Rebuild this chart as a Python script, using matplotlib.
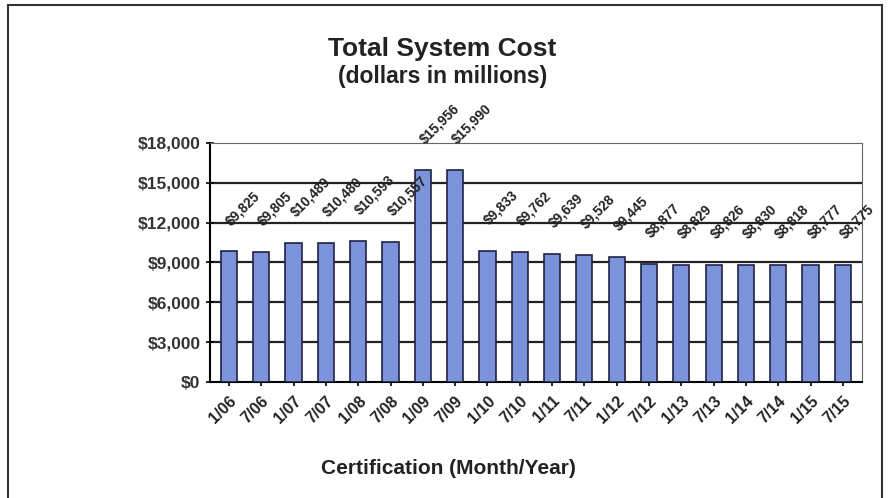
import numpy as np
import matplotlib
matplotlib.use("Agg")
import matplotlib.pyplot as plt
from matplotlib.patches import Rectangle

# Datos
periodos = ["1/06", "7/06", "1/07", "7/07", "1/08", "7/08", "1/09", "7/09", "1/10", "7/10",
            "1/11", "7/11", "1/12", "7/12", "1/13", "7/13", "1/14", "7/14", "1/15", "7/15"]
costes = [9825, 9805, 10489, 10480, 10593, 10557, 15956, 15990, 9833, 9762,
          9639, 9528, 9445, 8877, 8829, 8826, 8830, 8818, 8777, 8775]
ticks_y = [0, 3000, 6000, 9000, 12000, 15000, 18000]

plt.rcParams['font.family'] = ['Liberation Sans', 'DejaVu Sans']
plt.rcParams['font.weight'] = 'bold'

fig = plt.figure(figsize=(8.88, 4.98), dpi=100)
ax = fig.add_axes([0.236, 0.233, 0.735, 0.48])

# Marco exterior
fig.patches.append(Rectangle((0.009, -0.05), 0.984, 1.04, transform=fig.transFigure,
                             fill=False, edgecolor="#333333", linewidth=1.5))

x = np.arange(len(periodos))
ax.bar(x, costes, width=0.5, color="#7b93db", edgecolor="#222244", linewidth=1.2, zorder=3)

# Etiquetas de valor giradas
for xi, v in zip(x, costes):
    ax.annotate(f"${v:,}", (xi, v), xytext=(3, 17), textcoords="offset points",
                rotation=45, fontsize=9.8, fontweight="bold", color="#222222",
                ha="left", va="bottom", rotation_mode="anchor", zorder=4)

ax.set_xlim(-0.6, len(periodos) - 0.4)
ax.set_ylim(0, 18000)
ax.set_yticks(ticks_y)
ax.set_yticklabels([f"${t:,}" for t in ticks_y], fontsize=12.5, fontweight="bold", color="#333333")
ax.set_xticks(x)
ax.set_xticklabels(periodos, rotation=45, ha="right", rotation_mode="anchor",
                   fontsize=11.5, fontweight="bold", color="#222222")

for t in ticks_y[1:-1]:
    ax.axhline(t, color="#222222", linewidth=1.6, zorder=1)

ax.spines["top"].set_linestyle((0, (2, 1)))
ax.spines["top"].set_color("#666666")
ax.spines["right"].set_linestyle((0, (2, 1)))
ax.spines["right"].set_color("#666666")
ax.spines["left"].set_linewidth(1.5)
ax.spines["bottom"].set_linewidth(1.5)
ax.tick_params(axis="both", direction="inout", length=6, width=1.2)
ax.tick_params(axis="x", pad=5)

fig.text(0.505, 0.06, "Certification (Month/Year)", ha="center", va="center",
         fontsize=15, fontweight="bold", color="#222222")
fig.text(0.498, 0.902, "Total System Cost", ha="center", va="center", fontsize=19,
         fontweight="bold", color="#222222")
fig.text(0.498, 0.847, "(dollars in millions)", ha="center", va="center", fontsize=16.5,
         fontweight="bold", color="#222222")

fig.savefig("out.png", dpi=100)
